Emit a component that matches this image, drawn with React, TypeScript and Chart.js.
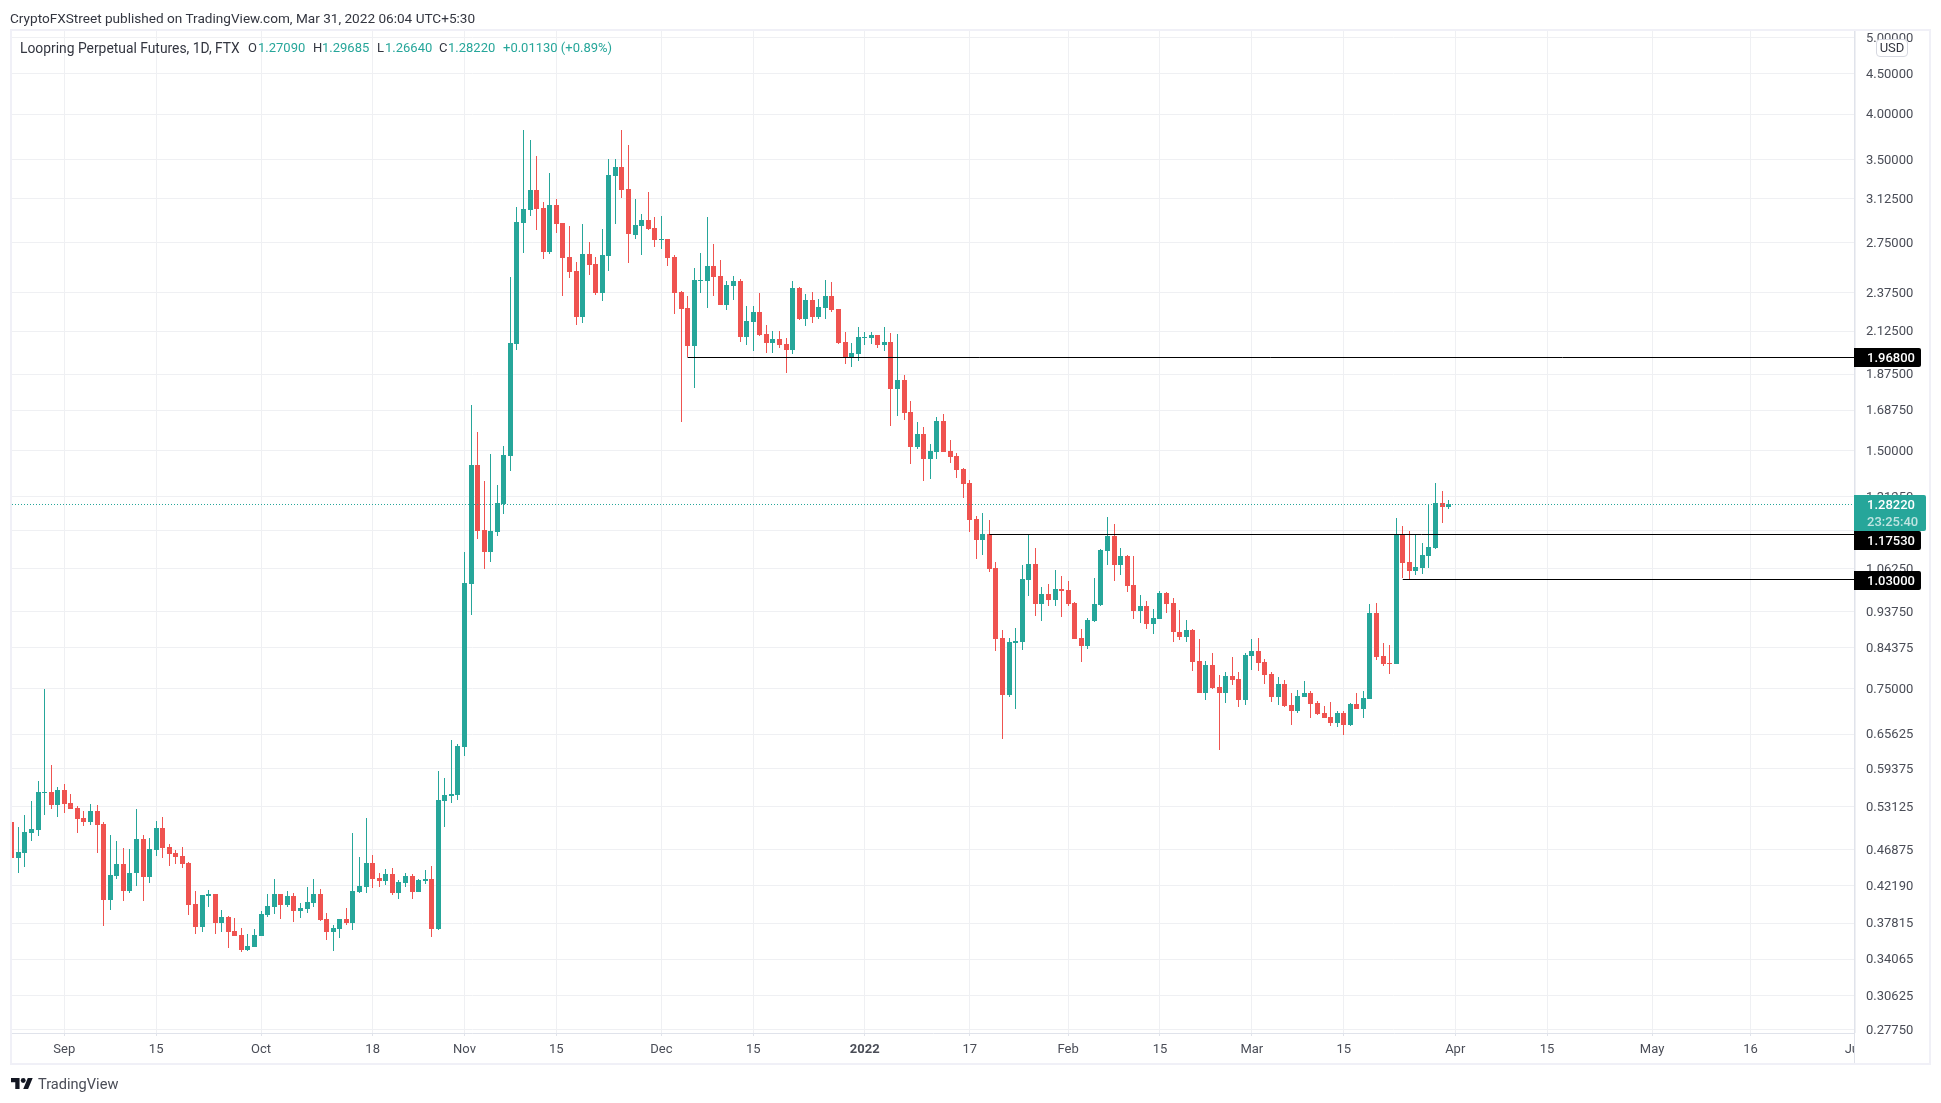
import { useEffect, useRef } from "react";
import { Chart, registerables } from "chart.js";

Chart.register(...registerables);

const UP = "#26a69a";
const DOWN = "#ef5350";
const FONT = "Roboto, sans-serif";
const GRID = "#eff0f3";

// one candle per day, day 0 is Sep 1 2021, first candle is Aug 24
const firstDay = -8;

const opens = [
  0.5077, 0.4569, 0.4638, 0.4919, 0.4962, 0.5527, 0.5544, 0.5334, 0.5576, 0.5366,
  0.5291, 0.5139, 0.5077, 0.5246, 0.505, 0.4046, 0.4339, 0.4493, 0.4154, 0.4374,
  0.4833, 0.4327, 0.468, 0.4992, 0.4722, 0.4638, 0.4598, 0.4506, 0.3998, 0.374,
  0.4094, 0.4118, 0.3784, 0.3855, 0.3696, 0.3654, 0.3497, 0.3528, 0.3643, 0.3873,
  0.3965, 0.4118, 0.3985, 0.4094, 0.3919, 0.3942, 0.401, 0.4118, 0.3833, 0.3687,
  0.3718, 0.3833, 0.3784, 0.4142, 0.4205, 0.4506, 0.4314, 0.4277, 0.4364, 0.413,
  0.4252, 0.4339, 0.4142, 0.4277, 0.4302, 0.3718, 0.5398, 0.5478, 0.5495, 0.6322,
  1.0166, 1.438, 1.19, 1.116, 1.183, 1.284, 1.4765, 2.047, 2.912, 3.025,
  3.207, 3.043, 2.678, 3.07, 2.912, 2.638, 2.532, 2.214, 2.661, 2.585,
  2.375, 2.646, 3.34, 3.429, 3.216, 2.812, 2.887, 2.937, 2.87, 2.772,
  2.78, 2.638, 2.382, 2.273, 2.035, 2.46, 2.46, 2.57, 2.496, 2.293,
  2.424, 2.46, 2.089, 2.183, 2.247, 2.107, 2.053, 2.077, 2.047, 2.011,
  2.409, 2.201, 2.327, 2.214, 2.273, 2.355, 2.267, 2.059, 1.97, 1.987,
  2.083, 2.083, 2.101, 2.041, 2.059, 1.795, 1.843, 1.679, 1.516, 1.574,
  1.464, 1.495, 1.635, 1.498, 1.477, 1.422, 1.365, 1.228, 1.156, 1.175,
  1.065, 0.8685, 0.7355, 0.856, 0.858, 1.029, 1.078, 0.959, 0.987, 0.97,
  1.002, 0.999, 0.962, 0.8685, 0.848, 0.913, 0.956, 1.119, 1.169, 1.074,
  1.103, 1.014, 0.939, 0.953, 0.905, 0.918, 0.99, 0.962, 0.8835, 0.871,
  0.889, 0.812, 0.74, 0.803, 0.7529, 0.74, 0.777, 0.771, 0.725, 0.824,
  0.8365, 0.81, 0.782, 0.731, 0.7595, 0.7145, 0.702, 0.7313, 0.74, 0.7187,
  0.698, 0.69, 0.678, 0.698, 0.674, 0.7166, 0.706, 0.727, 0.934, 0.824,
  0.808, 0.805, 1.173, 1.084, 1.056, 1.065, 1.103, 1.129, 1.287, 1.2709,
];

const highs = [
  0.5398, 0.5006, 0.5184, 0.5398, 0.5724, 0.7486, 0.5996, 0.5622, 0.5673, 0.5511,
  0.5319, 0.5246, 0.5349, 0.5334, 0.5077, 0.4887, 0.4806, 0.4709, 0.4694, 0.5277,
  0.4887, 0.4847, 0.5091, 0.5154, 0.4764, 0.468, 0.4722, 0.452, 0.4154, 0.4106,
  0.4166, 0.4118, 0.393, 0.3862, 0.384, 0.373, 0.3665, 0.3718, 0.392, 0.4118,
  0.4302, 0.4118, 0.4154, 0.413, 0.401, 0.4205, 0.4302, 0.4178, 0.3897, 0.3762,
  0.3833, 0.3953, 0.4919, 0.4583, 0.5139, 0.4612, 0.4374, 0.4428, 0.444, 0.4289,
  0.4374, 0.4364, 0.4302, 0.4415, 0.4466, 0.589, 0.5775, 0.6451, 0.6378, 1.116,
  1.713, 1.583, 1.3727, 1.485, 1.357, 1.52, 2.489, 3.051, 3.82, 3.707,
  3.541, 3.096, 3.37, 3.123, 2.912, 2.887, 2.6, 2.903, 2.756, 2.638,
  2.861, 3.51, 3.51, 3.82, 3.656, 3.123, 2.99, 3.188, 2.964, 2.972,
  2.78, 2.653, 2.39, 2.355, 2.555, 2.669, 2.964, 2.74, 2.615, 2.46,
  2.496, 2.474, 2.287, 2.287, 2.375, 2.163, 2.125, 2.125, 2.083, 2.46,
  2.416, 2.368, 2.382, 2.334, 2.467, 2.452, 2.267, 2.119, 2.053, 2.151,
  2.119, 2.119, 2.101, 2.151, 2.113, 2.107, 1.87, 1.733, 1.63, 1.606,
  1.529, 1.654, 1.669, 1.547, 1.49, 1.426, 1.377, 1.239, 1.25, 1.225,
  1.084, 0.889, 0.8685, 0.894, 1.074, 1.176, 1.129, 1.008, 1.017, 1.059,
  1.041, 1.026, 0.965, 0.891, 0.921, 1.035, 1.126, 1.236, 1.211, 1.129,
  1.106, 1.103, 0.984, 0.967, 0.945, 0.996, 0.993, 0.975, 0.942, 0.915,
  0.891, 0.866, 0.812, 0.831, 0.78, 0.7865, 0.8217, 0.7865, 0.831, 0.866,
  0.8685, 0.817, 0.7865, 0.775, 0.768, 0.74, 0.7467, 0.767, 0.7445, 0.7225,
  0.7125, 0.7208, 0.702, 0.702, 0.7187, 0.74, 0.7445, 0.959, 0.962, 0.856,
  0.851, 1.232, 1.204, 1.186, 1.176, 1.147, 1.28, 1.365, 1.333, 1.29685,
];

const lows = [
  0.4268, 0.4374, 0.4453, 0.4802, 0.4876, 0.5184, 0.5277, 0.5154, 0.5215, 0.5277,
  0.4919, 0.5021, 0.5035, 0.4638, 0.3751, 0.393, 0.4302, 0.4034, 0.413, 0.4215,
  0.4034, 0.4252, 0.4598, 0.4569, 0.4466, 0.4493, 0.444, 0.3873, 0.3665, 0.3687,
  0.3965, 0.3665, 0.3687, 0.3519, 0.3643, 0.3477, 0.3487, 0.3528, 0.3643, 0.3855,
  0.3886, 0.3833, 0.3965, 0.3795, 0.384, 0.3897, 0.3965, 0.3806, 0.3601, 0.3487,
  0.3622, 0.3762, 0.3707, 0.413, 0.413, 0.419, 0.4205, 0.4227, 0.4106, 0.4058,
  0.4205, 0.4058, 0.4142, 0.424, 0.3629, 0.3707, 0.5006, 0.5366, 0.5412, 0.6158,
  0.9288, 1.159, 1.062, 1.084, 1.169, 1.247, 1.413, 2.011, 2.668, 2.972,
  2.853, 2.623, 2.662, 2.828, 2.355, 2.481, 2.163, 2.176, 2.503, 2.361,
  2.32, 2.532, 2.903, 3.133, 2.592, 2.78, 2.653, 2.853, 2.716, 2.7,
  2.57, 2.234, 1.63, 1.968, 1.8, 2.375, 2.273, 2.355, 2.293, 2.26,
  2.327, 2.059, 2.041, 2.005, 2.095, 1.993, 1.993, 2.023, 1.881, 1.987,
  2.195, 2.157, 2.176, 2.201, 2.201, 2.247, 2.047, 1.93, 1.913, 1.947,
  2.041, 2.047, 2.023, 2.005, 1.611, 1.658, 1.639, 1.442, 1.507, 1.373,
  1.381, 1.464, 1.495, 1.447, 1.385, 1.306, 1.182, 1.094, 1.106, 1.053,
  0.8365, 0.647, 0.731, 0.706, 0.839, 0.982, 0.926, 0.912, 0.953, 0.953,
  0.923, 0.953, 0.866, 0.81, 0.841, 0.91, 0.953, 1.074, 1.026, 1.044,
  0.993, 0.918, 0.907, 0.891, 0.88, 0.918, 0.934, 0.858, 0.8635, 0.858,
  0.789, 0.74, 0.725, 0.7486, 0.6264, 0.719, 0.757, 0.71, 0.7145, 0.791,
  0.789, 0.76, 0.72, 0.7145, 0.7105, 0.674, 0.698, 0.7313, 0.688, 0.6935,
  0.688, 0.672, 0.6695, 0.654, 0.672, 0.706, 0.688, 0.727, 0.815, 0.8,
  0.782, 0.805, 1.034, 1.03, 1.044, 1.047, 1.065, 1.126, 1.214, 1.2664,
];

const closes = [
  0.4569, 0.4652, 0.4933, 0.4977, 0.5544, 0.5544, 0.5334, 0.5576, 0.5349, 0.5277,
  0.513, 0.5077, 0.5246, 0.5035, 0.4046, 0.4351, 0.4493, 0.4154, 0.4374, 0.4833,
  0.4327, 0.4694, 0.4992, 0.4709, 0.4624, 0.4583, 0.4493, 0.3985, 0.374, 0.4106,
  0.4118, 0.3784, 0.3855, 0.3687, 0.3643, 0.3497, 0.3538, 0.3654, 0.3886, 0.3973,
  0.4118, 0.3985, 0.4094, 0.3919, 0.3953, 0.4022, 0.4118, 0.3817, 0.3687, 0.373,
  0.3833, 0.3784, 0.4154, 0.4215, 0.4506, 0.4302, 0.4277, 0.4364, 0.413, 0.4264,
  0.4339, 0.4142, 0.4289, 0.4302, 0.3718, 0.5412, 0.5495, 0.5511, 0.634, 1.0196,
  1.438, 1.1865, 1.116, 1.1865, 1.287, 1.481, 2.053, 2.92, 3.034, 3.207,
  3.034, 2.678, 3.07, 2.903, 2.63, 2.525, 2.214, 2.661, 2.577, 2.375,
  2.653, 3.35, 3.429, 3.207, 2.819, 2.895, 2.937, 2.861, 2.772, 2.78,
  2.63, 2.375, 2.267, 2.035, 2.467, 2.467, 2.57, 2.489, 2.293, 2.431,
  2.46, 2.089, 2.19, 2.247, 2.101, 2.053, 2.077, 2.041, 2.011, 2.409,
  2.201, 2.327, 2.214, 2.28, 2.355, 2.26, 2.053, 1.97, 1.993, 2.089,
  2.089, 2.101, 2.041, 2.059, 1.795, 1.843, 1.673, 1.516, 1.574, 1.464,
  1.498, 1.635, 1.495, 1.473, 1.418, 1.36, 1.225, 1.156, 1.175, 1.062,
  0.866, 0.7355, 0.858, 0.861, 1.032, 1.078, 0.959, 0.987, 0.97, 1.002,
  0.996, 0.959, 0.866, 0.848, 0.915, 0.959, 1.123, 1.169, 1.074, 1.103,
  1.011, 0.939, 0.953, 0.905, 0.921, 0.99, 0.959, 0.883, 0.871, 0.889,
  0.81, 0.74, 0.803, 0.7507, 0.74, 0.777, 0.768, 0.725, 0.826, 0.8365,
  0.807, 0.78, 0.731, 0.76, 0.7125, 0.702, 0.7335, 0.74, 0.7166, 0.695,
  0.688, 0.678, 0.698, 0.674, 0.7166, 0.706, 0.729, 0.934, 0.822, 0.805,
  0.805, 1.173, 1.081, 1.056, 1.068, 1.107, 1.132, 1.287, 1.2709, 1.2822,
];

const lastPrice = 1.2822;
const levelPrices = [1.968, 1.1753, 1.03];
const levelStartDays = [95, 141, 204];

const xTickDays = [0, 14, 30, 47, 61, 75, 91, 105, 122, 138, 153, 167, 181, 195, 212, 226, 242, 257, 273];
const xTickLabels = ["Sep", "15", "Oct", "18", "Nov", "15", "Dec", "15", "2022", "17", "Feb", "15", "Mar", "15", "Apr", "15", "May", "16", "Jun"];
const yTicks = [
  5, 4.5, 4, 3.5, 3.125, 2.75, 2.375, 2.125, 1.875, 1.6875, 1.5, 1.3125, 1.1875, 1.0625,
  0.9375, 0.84375, 0.75, 0.65625, 0.59375, 0.53125, 0.46875, 0.4219, 0.37815, 0.34065, 0.30625, 0.2775,
];

const xMin = -7.97;
const xMax = 272.78;
const yMin = 0.2746;
const yMax = 5.097;

const candleColors = opens.map((o, i) => (closes[i] >= o ? UP : DOWN));

// snap candles and level lines to whole pixels, the original has no blur on them
const crispPlugin = {
  id: "crisp",
  beforeDatasetsDraw(chart: any) {
    chart.getSortedVisibleDatasetMetas().forEach((meta: any) => {
      meta.data.forEach((el: any) => {
        if (meta.type === "line") {
          el.y = Math.floor(el.y) + 0.5;
          return;
        }
        el.x = Math.floor(el.x) + 0.5;
        el.y = Math.round(el.y);
        el.base = Math.round(el.base);
        if (el.y === el.base) el.base = el.y + 1;
      });
    });
  },
};

const axisLabelsPlugin = {
  id: "axisLabels",
  afterDraw(chart: any) {
    const { ctx, chartArea, scales } = chart;
    const left = chartArea.right;
    ctx.save();

    // time axis corner hides whatever sticks out of the panes
    ctx.fillStyle = "#ffffff";
    ctx.fillRect(left + 1, chartArea.bottom + 1, 75, 29);
    ctx.fillStyle = "#e0e3eb";
    ctx.fillRect(left, chartArea.bottom, 1, 30);

    ctx.textBaseline = "middle";
    ctx.textAlign = "left";

    const lastY = scales.y.getPixelForValue(lastPrice);
    const lastTop = Math.round(lastY) - 9;
    ctx.font = "13px " + FONT;
    ctx.fillStyle = UP;
    ctx.beginPath();
    ctx.roundRect(left, lastTop, 72, 36, [0, 2, 2, 0]);
    ctx.fill();
    ctx.fillStyle = "#ffffff";
    ctx.font = "500 13px " + FONT;
    ctx.fillText(lastPrice.toFixed(5), left + 13, lastTop + 11);
    ctx.fillStyle = "rgba(255,255,255,0.7)";
    ctx.fillText("23:25:40", left + 13, lastTop + 28);

    levelPrices.forEach((price) => {
      const y = scales.y.getPixelForValue(price);
      let top = Math.round(y) - 9;
      if (top < lastTop + 36 && top > lastTop) top = lastTop + 36;
      ctx.fillStyle = "#000000";
      ctx.beginPath();
      ctx.roundRect(left, top, 67, 19, [0, 2, 2, 0]);
      ctx.fill();
      ctx.fillStyle = "#ffffff";
      ctx.fillText(price.toFixed(5), left + 13, top + 11);
    });

    ctx.strokeStyle = "#f0f0f7";
    ctx.lineWidth = 2;
    ctx.strokeRect(11, 30, 1919, 1034);
    ctx.restore();
  },
};

function CandleChart() {
  const canvasRef = useRef<HTMLCanvasElement>(null);

  useEffect(() => {
    if (!canvasRef.current) return;

    const days = opens.map((_, i) => firstDay + i);

    const chart = new Chart(canvasRef.current, {
      type: "bar",
      data: {
        datasets: [
          ...levelPrices.map((price, i) => ({
            type: "line" as const,
            data: [
              { x: levelStartDays[i], y: price },
              { x: xMax, y: price },
            ],
            borderColor: "#000000",
            borderWidth: 1,
            pointRadius: 0,
            order: 0,
          })),
          {
            type: "line" as const,
            data: [
              { x: xMin, y: lastPrice },
              { x: xMax, y: lastPrice },
            ],
            borderColor: UP,
            borderWidth: 1,
            borderDash: [1, 2],
            pointRadius: 0,
            order: 0,
          },
          {
            type: "bar" as const,
            data: days.map((d, i) => ({ x: d, y: [opens[i], closes[i]] })),
            backgroundColor: candleColors,
            barThickness: 5,
            grouped: false,
            inflateAmount: 0,
            borderWidth: 0,
            order: 1,
          },
          {
            type: "bar" as const,
            data: days.map((d, i) => ({ x: d, y: [lows[i], highs[i]] })),
            backgroundColor: candleColors,
            barThickness: 1,
            grouped: false,
            inflateAmount: 0,
            borderWidth: 0,
            order: 2,
          },
        ] as any,
      },
      options: {
        responsive: false,
        animation: false,
        devicePixelRatio: 1,
        layout: { padding: { left: 12, top: 31, right: 11, bottom: 40 } },
        plugins: {
          legend: { display: false },
          tooltip: { enabled: false },
        },
        scales: {
          x: {
            type: "linear",
            min: xMin,
            max: xMax,
            offset: false,
            grid: { offset: false, color: GRID, tickColor: "#e0e3eb", tickLength: 3 },
            border: { color: "#e0e3eb" },
            afterBuildTicks: (scale: any) => {
              scale.ticks = xTickDays.map((value) => ({ value }));
            },
            afterFit: (scale: any) => {
              scale.height = 30;
            },
            ticks: {
              autoSkip: false,
              maxRotation: 0,
              minRotation: 0,
              padding: 6,
              color: "#4a4d57",
              font: (ctx: any) => ({
                family: FONT,
                size: 13,
                weight: ctx.tick && ctx.tick.label === "2022" ? "bold" : "normal",
              }),
              callback: (value: any) => xTickLabels[xTickDays.indexOf(value)],
            },
          },
          y: {
            type: "logarithmic",
            position: "right",
            min: yMin,
            max: yMax,
            grid: { color: GRID, drawTicks: false },
            border: { color: "#e0e3eb" },
            afterBuildTicks: (scale: any) => {
              scale.ticks = yTicks.map((value) => ({ value }));
            },
            afterFit: (scale: any) => {
              scale.width = 76;
            },
            ticks: {
              autoSkip: false,
              padding: 12,
              labelOffset: 1,
              color: "#4a4d57",
              font: { family: FONT, size: 13 },
              callback: (value: any) => Number(value).toFixed(5),
            },
          },
        },
      },
      plugins: [crispPlugin, axisLabelsPlugin],
    });

    return () => chart.destroy();
  }, []);

  return <canvas ref={canvasRef} width={1941} height={1103} style={{ display: "block" }} />;
}

const textStyle = { position: "absolute", fontFamily: FONT, fontSize: 13, lineHeight: "16px", whiteSpace: "nowrap" } as const;

function Label({ x, y, color, size = 13, children }: { x: number; y: number; color: string; size?: number; children: string }) {
  return <div style={{ ...textStyle, left: x, top: y, color, fontSize: size }}>{children}</div>;
}

export default function App() {
  return (
    <div style={{ position: "absolute", left: 0, top: 0, width: 1941, height: 1103, overflow: "hidden", background: "#fff" }}>
      <CandleChart />
      <Label x={10} y={10} color="#333640" size={13.6}>CryptoFXStreet published on TradingView.com, Mar 31, 2022 06:04 UTC+5:30</Label>
      <Label x={20} y={40} color="#333640" size={13.85}>Loopring Perpetual Futures, 1D, FTX</Label>
      <Label x={248} y={40} color="#333640">O</Label>
      <Label x={258} y={40} color={UP}>1.27090</Label>
      <Label x={313} y={40} color="#333640">H</Label>
      <Label x={322} y={40} color={UP}>1.29685</Label>
      <Label x={377} y={40} color="#333640">L</Label>
      <Label x={385} y={40} color={UP}>1.26640</Label>
      <Label x={439} y={40} color="#333640">C</Label>
      <Label x={448} y={40} color={UP}>1.28220</Label>
      <Label x={503} y={40} color={UP}>+0.01130 (+0.89%)</Label>
      <div
        style={{
          ...textStyle,
          left: 1876,
          top: 39,
          width: 32,
          height: 18,
          boxSizing: "border-box",
          background: "#fff",
          border: "1px solid #d6d8e0",
          borderRadius: 4,
          textAlign: "center",
          color: "#333640",
        }}
      >
        USD
      </div>
      <svg style={{ position: "absolute", left: 11, top: 1078 }} width={22} height={11} viewBox="0 4 36 18">
        <path d="M14 22H7V11H0V4h14v18zM28 22h-8l7.5-18h8L28 22z" fill="#131722" />
        <circle cx={20} cy={8} r={4} fill="#131722" />
      </svg>
      <div style={{ ...textStyle, left: 38, top: 1076, fontSize: 14.6, color: "#4a4d57" }}>TradingView</div>
    </div>
  );
}
